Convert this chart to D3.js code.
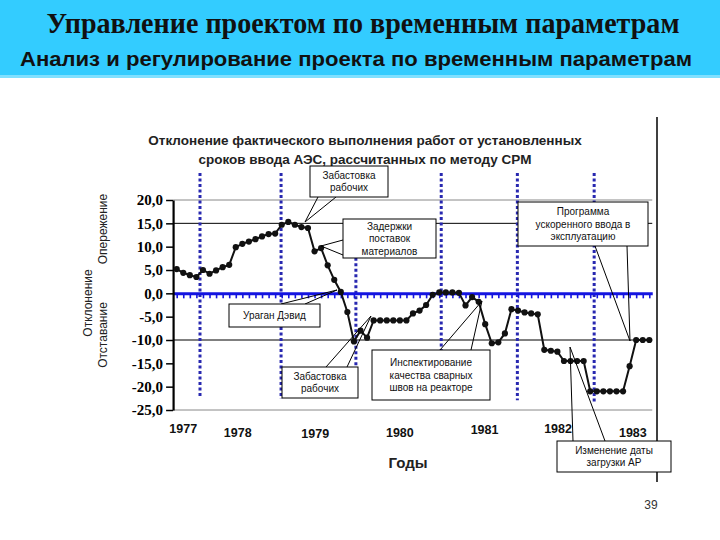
<!DOCTYPE html>
<html><head><meta charset="utf-8">
<script src="https://cdn.jsdelivr.net/npm/d3@7"></script>
<style>body{margin:0;background:#fff;} svg{display:block}</style>
</head><body><svg id="c" width="720" height="540"></svg>
<script>
// ---- data ----
const headerTitle = "Управление проектом по временным параметрам";
const headerSub = "Анализ и регулирование проекта по временным параметрам";
const chartTitle = ["Отклонение фактического выполнения работ от установленных",
                    "сроков ввода АЭС, рассчитанных по методу CPM"];
const years = ["1977","1978","1979","1980","1981","1982","1983"];
const yearLabelMonth = [1.0, 9.3, 21.1, 34.0, 46.9, 58.1, 69.5];
const yearBoundaryMonth = [3.55, 15.9, 27.3, 40.3, 51.9, 63.6];
const deviation = [5.2,4.4,3.9,3.5,5.0,4.2,4.9,5.6,6.1,9.9,
  10.6,11.1,11.6,12.2,12.7,12.8,14.7,15.3,14.7,14.2,
  14.0,9.0,9.7,6.0,2.9,0.3,-4.0,-10.3,-8.0,-9.5,
  -5.8,-5.8,-5.8,-5.8,-5.8,-5.8,-4.3,-3.7,-2.5,-0.3,
  0.2,0.2,0.2,0.1,-2.6,-0.8,-1.8,-6.6,-10.7,-10.5,
  -8.6,-3.4,-3.7,-4.1,-4.3,-4.5,-12.1,-12.3,-12.5,-14.5,
  -14.5,-14.5,-14.5,-21,-21,-21,-21,-21,-21,-15.6,
  -10,-10,-10];
const yTicks = [20,15,10,5,0,-5,-10,-15,-20,-25];
const gridValues = [20,15,-10,-25];

// ---- drawing ----
const svg = d3.select("#c");
const SANS = "'Liberation Sans', Arial, sans-serif";
const SERIF = "'Liberation Serif', 'Times New Roman', serif";

// header
svg.append("rect").attr("x",0).attr("y",0).attr("width",720).attr("height",75).attr("fill","#33ccff");
svg.append("rect").attr("x",0).attr("y",75).attr("width",720).attr("height",3).attr("fill","#80e0ff");
svg.append("text").attr("x",363).attr("y",33).attr("text-anchor","middle")
  .attr("font-family",SERIF).attr("font-weight","bold").attr("font-size",29)
  .attr("textLength",633).attr("lengthAdjust","spacingAndGlyphs").attr("fill","#111").text(headerTitle);
svg.append("text").attr("x",356).attr("y",66).attr("text-anchor","middle")
  .attr("font-family",SANS).attr("font-weight","bold").attr("font-size",21)
  .attr("textLength",672).attr("lengthAdjust","spacingAndGlyphs").attr("fill","#111").text(headerSub);

const x = d3.scaleLinear().domain([0, deviation.length-1]).range([176.7, 649.3]);
const y = d3.scaleLinear().domain([-25, 20]).range([410, 200]);
const xL = x(-0.55), xR = x(72.45);

// right border
svg.append("line").attr("x1",657).attr("x2",657).attr("y1",117).attr("y2",482)
  .attr("stroke","#000").attr("stroke-width",1.5);

// chart title
chartTitle.forEach((t,i)=>{
  svg.append("text").attr("x",365).attr("y",145+i*19).attr("text-anchor","middle")
    .attr("font-family",SANS).attr("font-weight","bold").attr("font-size",13.5).attr("fill","#222").text(t);
});

// gridlines
svg.append("g").selectAll("line").data(gridValues).join("line")
  .attr("x1",xL).attr("x2",xR).attr("y1",d=>y(d)).attr("y2",d=>y(d))
  .attr("stroke",d=>(d===20||d===-25)?"#888":"#000").attr("stroke-width",1);

// year boundary dotted lines
const boundExt = [[25.8,-22.2],[25.8,-22.6],[7.6,-15.5],[25.8,-22.6],[25.8,-22.9],[25.8,-23.3]];
svg.append("g").selectAll("line").data(yearBoundaryMonth).join("line")
  .attr("x1",d=>x(d)).attr("x2",d=>x(d))
  .attr("y1",(d,i)=>y(boundExt[i][0])).attr("y2",(d,i)=>y(boundExt[i][1]))
  .attr("stroke","#2828b0").attr("stroke-width",3).attr("stroke-dasharray","3,2.5");

// zero axis (blue) with month ticks
const xa = d3.scaleLinear().domain([-0.55,72.45]).range([xL,xR]);
const zeroAxis = svg.append("g").attr("transform",`translate(0,${y(0)})`)
  .call(d3.axisBottom(xa).tickValues(d3.range(0,73)).tickSize(5).tickSizeOuter(0).tickFormat(""));
zeroAxis.select(".domain").attr("stroke","#1414e0").attr("stroke-width",3);
zeroAxis.selectAll(".tick line").attr("stroke","#1414e0").attr("stroke-width",1.6);

// left axis
const yAxis = svg.append("g").attr("transform",`translate(${xL},0)`)
  .call(d3.axisLeft(y).tickValues(yTicks).tickSize(7).tickSizeOuter(0).tickPadding(3)
    .tickFormat(d=>(d<0?"-":"")+Math.abs(d).toFixed(1).replace(".",",")));
yAxis.select(".domain").attr("stroke","#000").attr("stroke-width",2.2);
yAxis.selectAll(".tick line").attr("stroke","#000").attr("stroke-width",1.5);
yAxis.selectAll(".tick text").attr("font-family",SERIF).attr("font-weight","bold")
  .attr("font-size",15).attr("fill","#000");

// data line
const line = d3.line().x((d,i)=>x(i)).y(d=>y(d));
svg.append("path").datum(deviation).attr("d",line).attr("fill","none")
  .attr("stroke","#111").attr("stroke-width",2);
svg.append("g").selectAll("circle").data(deviation).join("circle")
  .attr("cx",(d,i)=>x(i)).attr("cy",d=>y(d)).attr("r",3.1).attr("fill","#111");

// y axis titles
function vtext(tx,ty,t){
  svg.append("text").attr("transform",`translate(${tx},${ty}) rotate(-90)`).attr("text-anchor","middle")
    .attr("font-family",SANS).attr("font-size",12).attr("fill","#222").text(t);
}
vtext(107,229,"Опережение");
vtext(92,303,"Отклонение");
vtext(107,335,"Отставание");

// year labels
svg.append("g").selectAll("text").data(years).join("text")
  .attr("x",(d,i)=>x(yearLabelMonth[i])).attr("y",(d,i)=>[433,437,438,437,434,433,437][i])
  .attr("text-anchor","middle").attr("font-family",SANS).attr("font-weight","bold")
  .attr("font-size",12.5).attr("fill","#111").text(d=>d);

svg.append("text").attr("x",408).attr("y",468).attr("text-anchor","middle")
  .attr("font-family",SANS).attr("font-weight","bold").attr("font-size",15).attr("fill","#222").text("Годы");

// callouts
const callouts = [
  {box:[310,166,388,197], text:["Забастовка","рабочих"], wedge:[[318,197],[305,222],[336,197]]},
  {box:[343,219,436,258], text:["Задержки","поставок","материалов"], wedge:[[343,240],[321,246],[343,255]]},
  {box:[518,202,648,246], text:["Программа","ускоренного ввода в","эксплуатацию"], wedge:[[595,246],[630,341],[627,246]]},
  {box:[229,304,320,327], text:["Ураган Дэвид"], wedge:[[281,304],[337,290],[305,304]]},
  {box:[282,367,358,398], text:["Забастовка","рабочих"], wedge:[[326,367],[371,316],[347,367]]},
  {box:[372,350,490,400], text:["Инспектирование","качества сварных","швов на реакторе"], wedge:[[440,350],[482,301],[471,350]]},
  {box:[557,441,671,472], text:["Изменение даты","загрузки AP"], wedge:[[573,441],[570,347],[605,441]]}
];
callouts.forEach(c=>{
  const g = svg.append("g");
  g.append("path").attr("d",d3.line()(c.wedge)).attr("fill","none").attr("stroke","#000").attr("stroke-width",1);
  const [x0,y0,x1,y1]=c.box;
  g.append("rect").attr("x",x0).attr("y",y0).attr("width",x1-x0).attr("height",y1-y0)
    .attr("fill","#fff").attr("stroke","#000").attr("stroke-width",1);
  const n=c.text.length, lh=12.5, cy=(y0+y1)/2;
  c.text.forEach((t,i)=>{
    g.append("text").attr("x",(x0+x1)/2).attr("y",cy+(i-(n-1)/2)*lh+3.6).attr("text-anchor","middle")
      .attr("font-family",SANS).attr("font-size",10).attr("fill","#111").text(t);
  });
});

svg.append("text").attr("x",651).attr("y",509).attr("text-anchor","middle")
  .attr("font-family",SANS).attr("font-size",12).attr("fill","#333").text("39");
</script></body></html>
